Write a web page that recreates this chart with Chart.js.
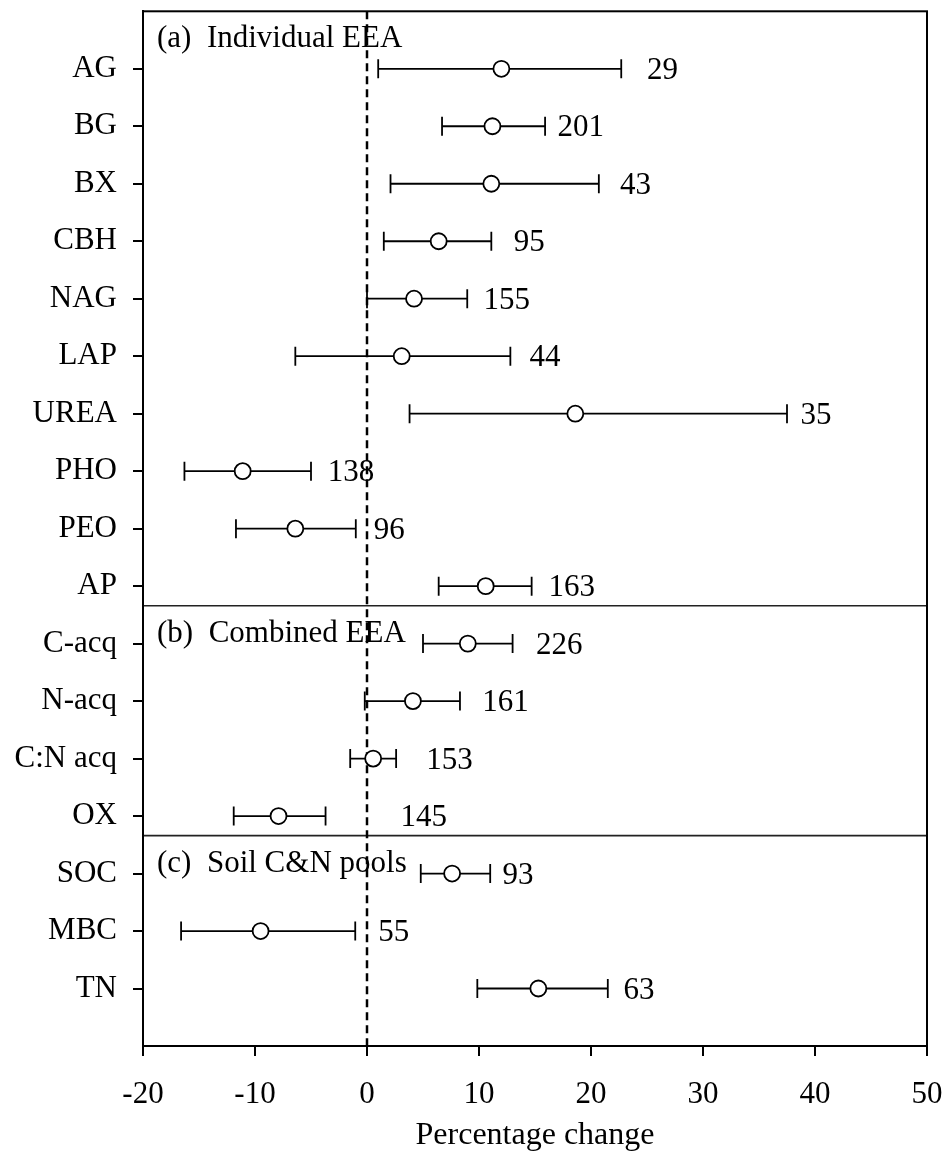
<!DOCTYPE html>
<html><head><meta charset="utf-8">
<script src="https://cdn.jsdelivr.net/npm/chart.js@4.4.0/dist/chart.umd.min.js"></script>
<style>html,body{margin:0;padding:0;background:#fff}#wrap{width:948px;height:1155px;position:relative}</style>
</head><body><div id="wrap"><canvas id="c" width="948" height="1155"></canvas></div>
<script>
const categories = ['AG','BG','BX','CBH','NAG','LAP','UREA','PHO','PEO','AP','C-acq','N-acq','C:N acq','OX','SOC','MBC','TN'];
const means = [12.0, 11.2, 11.1, 6.4, 4.2, 3.1, 18.6, -11.1, -6.4, 10.6, 9.0, 4.1, 0.55, -7.9, 7.6, -9.5, 15.3];
const lower = [1.0, 6.7, 2.1, 1.5, 0.0, -6.4, 3.8, -16.3, -11.7, 6.4, 5.0, -0.2, -1.5, -11.9, 4.8, -16.6, 9.85];
const upper = [22.7, 15.9, 20.7, 11.1, 8.95, 12.8, 37.5, -5.0, -1.0, 14.7, 13.0, 8.3, 2.6, -3.7, 11.0, -1.05, 21.5];
const sampleSizes = ['29','201','43','95','155','44','35','138','96','163','226','161','153','145','93','55','63'];
const sampleLabelX = [25.0, 17.0, 22.6, 13.1, 10.4, 14.5, 38.7, -3.5, 0.6, 16.2, 15.1, 10.3, 5.3, 3.0, 12.1, 1.0, 22.9];
const panelTitles = ['(a)  Individual EEA', '(b)  Combined EEA', '(c)  Soil C&N pools'];
const panelStartRows = [0, 10, 14];
const xTicks = [-20, -10, 0, 10, 20, 30, 40, 50];

const FONT = "'Liberation Serif', 'Times New Roman', serif";
const ROWMIN = -1, ROWMAX = categories.length;
const boundaries = panelStartRows.slice(1).map(r => r - 0.66);

const datasets = [];
datasets.push({
  type: 'scatter', label: 'mean', order: 0,
  data: means.map((m, i) => ({x: m, y: i})),
  pointRadius: 8, pointHoverRadius: 8, pointBackgroundColor: '#fff',
  pointBorderColor: '#000', pointBorderWidth: 1.8
});
categories.forEach((c, i) => {
  datasets.push({
    type: 'line', label: 'ci-' + c, order: 1,
    data: [{x: lower[i], y: i}, {x: upper[i], y: i}],
    borderColor: '#000', borderWidth: 1.8, fill: false,
    pointStyle: 'line', rotation: 90, pointRadius: 9.5, pointHoverRadius: 9.5,
    pointBorderColor: '#000', pointBorderWidth: 1.8
  });
});
datasets.push({
  type: 'line', label: 'zero', order: 2,
  data: [{x: 0, y: ROWMIN}, {x: 0, y: ROWMAX}],
  borderColor: '#000', borderWidth: 2.5, borderDash: [8, 5], pointRadius: 0
});
boundaries.forEach((b, k) => {
  datasets.push({
    type: 'line', label: 'sep' + k, order: 2,
    data: [{x: xTicks[0], y: b}, {x: xTicks[xTicks.length - 1], y: b}],
    borderColor: '#222', borderWidth: 1.6, pointRadius: 0
  });
});

const annot = {
  id: 'annot',
  afterDatasetsDraw(chart) {
    const {ctx, chartArea: a, scales: {x, y}} = chart;
    ctx.save();
    ctx.fillStyle = '#000';
    ctx.font = '31px ' + FONT;
    ctx.textAlign = 'left';
    ctx.textBaseline = 'middle';
    sampleSizes.forEach((s, i) => {
      ctx.fillText(s, x.getPixelForValue(sampleLabelX[i]), y.getPixelForValue(i) + 2);
    });
    ctx.font = '31px ' + FONT;
    ctx.textBaseline = 'alphabetic';
    panelTitles.forEach((t, k) => {
      const top = k === 0 ? a.top : y.getPixelForValue(boundaries[k - 1]);
      ctx.fillText(t, a.left + 14, top + 36);
    });
    ctx.strokeStyle = '#000';
    ctx.lineWidth = 2;
    ctx.strokeRect(a.left, a.top, a.right - a.left, a.bottom - a.top);
    ctx.restore();
  }
};

function noPad(s) { s.paddingTop = 0; s.paddingBottom = 0; s.paddingLeft = 0; s.paddingRight = 0; }

new Chart(document.getElementById('c'), {
  data: {datasets},
  options: {
    responsive: false, animation: false,
    layout: {padding: {left: 0, right: 21, top: 5, bottom: 0}},
    plugins: {legend: {display: false}, tooltip: {enabled: false}},
    scales: {
      x: {
        type: 'linear', min: xTicks[0], max: xTicks[xTicks.length - 1],
        afterBuildTicks: s => { s.ticks = xTicks.map(v => ({value: v})); },
        afterFit: s => { s.height = 109; noPad(s); },
        grid: {drawOnChartArea: false, drawTicks: true, tickLength: 10, color: '#000', lineWidth: 2},
        border: {display: true, color: '#000', width: 2},
        ticks: {color: '#000', font: {family: FONT, size: 31}, padding: 20, maxRotation: 0},
        title: {display: true, text: 'Percentage change', color: '#000', font: {family: FONT, size: 32}, padding: {top: 0, bottom: 0}}
      },
      y: {
        type: 'linear', min: ROWMIN, max: ROWMAX, reverse: true,
        afterBuildTicks: s => { s.ticks = categories.map((c, i) => ({value: i})); },
        afterFit: s => { s.width = 143; noPad(s); },
        grid: {drawOnChartArea: false, drawTicks: true, tickLength: 10, color: '#000', lineWidth: 2},
        border: {display: true, color: '#000', width: 2},
        ticks: {color: '#000', font: {family: FONT, size: 31}, padding: 16, autoSkip: false,
          callback: v => categories[v] !== undefined ? categories[v] : ''}
      }
    }
  },
  plugins: [annot]
});
</script></body></html>
